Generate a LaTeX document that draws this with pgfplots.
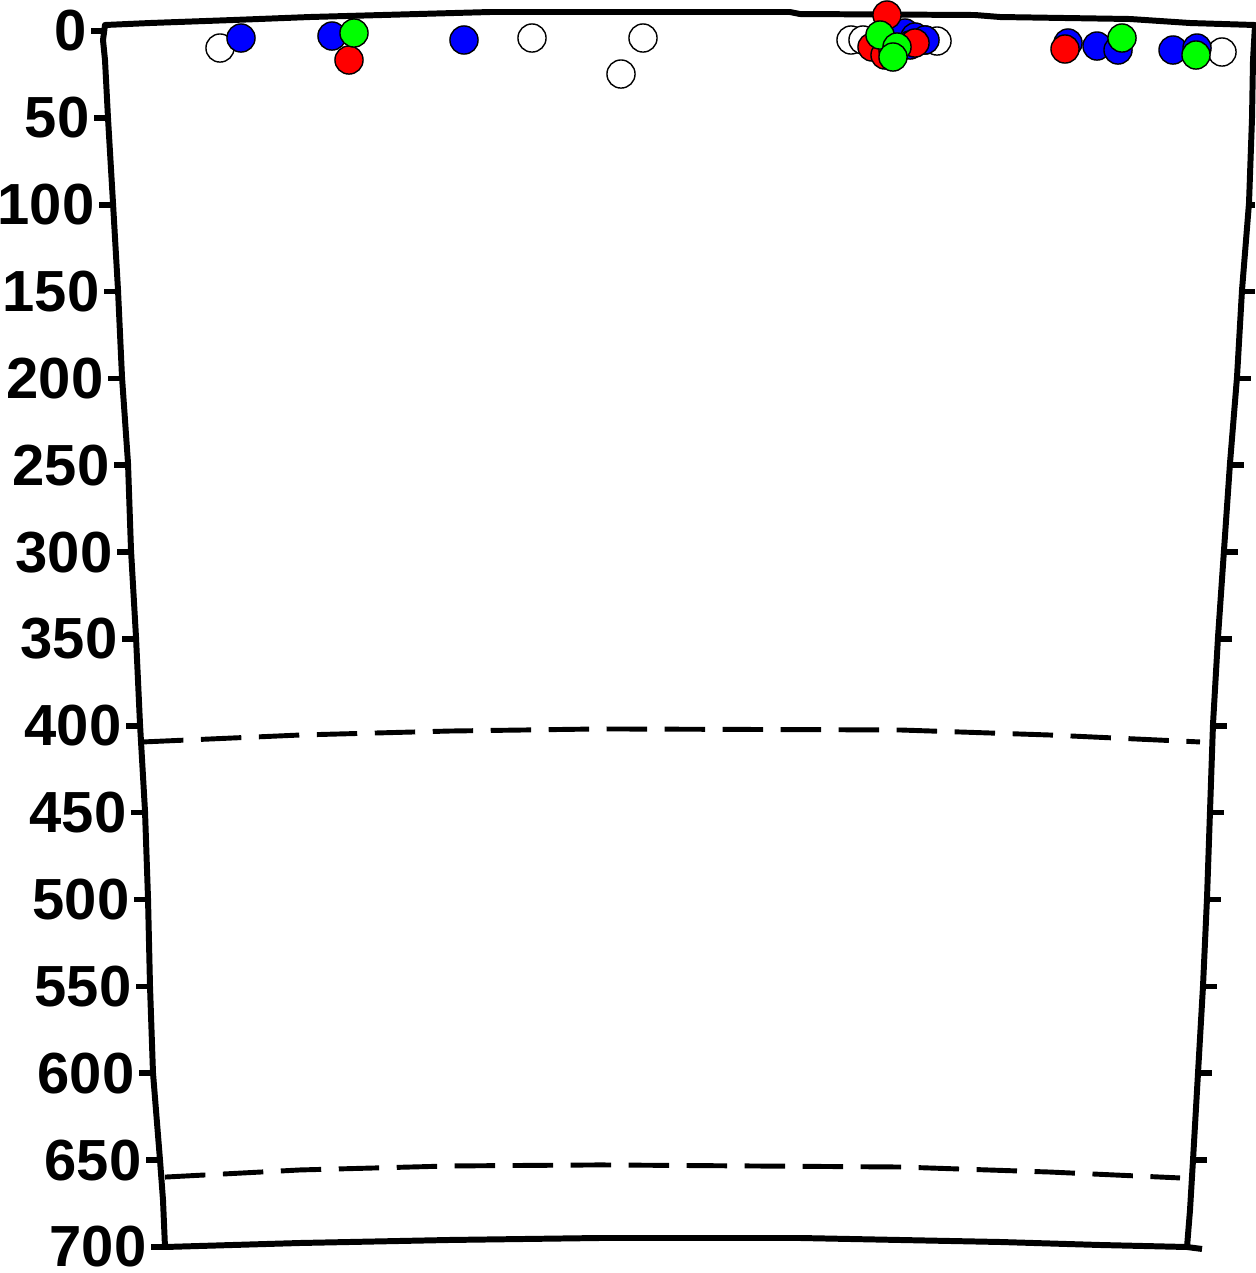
\documentclass[border=0pt]{standalone}
\usepackage{pgfplots}
\pgfplotsset{compat=1.18}
\usepackage{fontspec}
\setmainfont{Liberation Sans}
\newcommand\pp[2]{(axis cs:#1,{(#2-31)/1.737})}
\newcommand\ltick[2]{\draw[line width=1.6pt] (axis cs:{#2-14},#1) -- (axis cs:#2,#1);
  \node[anchor=east,font=\fontsize{16.5}{18}\selectfont\bfseries,inner sep=0pt] at (axis cs:{#2-18},#1) {#1};}
\newcommand\rtick[3]{\draw[line width=1.6pt] (axis cs:#2,#1) -- (axis cs:#3,#1);}
\begin{document}
\begin{tikzpicture}
\useasboundingbox (0,0) rectangle (12.55cm,12.73cm);
\begin{axis}[width=12.55cm,height=12.73cm,scale only axis,at={(0,0)},anchor=south west,
  xmin=0,xmax=1255,ymin=-17.847,ymax=715.03,y dir=reverse,
  axis lines=none,clip=false]
% frame
\draw[line width=1.7pt,line join=round]
 \pp{105}{25} -- \pp{150}{23} -- \pp{233}{20} -- \pp{310}{17} -- \pp{490}{12} -- \pp{790}{12} -- \pp{800}{14} -- \pp{975}{15} -- \pp{1000}{17} -- \pp{1130}{19} -- \pp{1190}{23} -- \pp{1255}{25}
 -- \pp{1253}{60} -- \pp{1252}{118} -- \pp{1249}{203} -- \pp{1242}{290} -- \pp{1237}{377} -- \pp{1230}{463} -- \pp{1224}{550} -- \pp{1218}{637} -- \pp{1213}{724} -- \pp{1210}{811} -- \pp{1207}{898} -- \pp{1203}{986} -- \pp{1198}{1073} -- \pp{1193}{1160} -- \pp{1190}{1210} -- \pp{1187}{1247}
 -- \pp{1100}{1245} -- \pp{1000}{1242} -- \pp{800}{1238} -- \pp{600}{1238} -- \pp{450}{1240} -- \pp{300}{1243} -- \pp{165}{1247}
 -- \pp{163}{1200} -- \pp{160}{1160} -- \pp{153}{1073} -- \pp{150}{986} -- \pp{148}{898} -- \pp{145}{811} -- \pp{140}{724} -- \pp{136}{637} -- \pp{131}{550} -- \pp{128}{463} -- \pp{122}{377} -- \pp{118}{290} -- \pp{113}{203} -- \pp{108}{118} -- \pp{105}{60} -- \pp{103}{40} -- cycle;
\draw[line width=1.7pt] \pp{1187}{1247} -- \pp{1202}{1249};
% left ticks and labels
\ltick{0}{105}\ltick{50}{108}\ltick{100}{113}\ltick{150}{118}\ltick{200}{122}
\ltick{250}{128}\ltick{300}{131}\ltick{350}{136}\ltick{400}{140}\ltick{450}{145}
\ltick{500}{148}\ltick{550}{150}\ltick{600}{153}\ltick{650}{160}\ltick{700}{165}
% right ticks
\rtick{50}{1252}{1255}\rtick{100}{1249}{1255}\rtick{150}{1242}{1255}\rtick{200}{1237}{1251}
\rtick{250}{1230}{1244}\rtick{300}{1224}{1238}\rtick{350}{1218}{1232}\rtick{400}{1213}{1227}
\rtick{450}{1210}{1224}\rtick{500}{1207}{1221}\rtick{550}{1203}{1217}\rtick{600}{1198}{1212}
\rtick{650}{1193}{1207}
% dashed lines
\addplot[black,line width=1.4pt,dash pattern=on 11.5pt off 5pt,no marks] coordinates
 {(143,409.3) (300,405.3) (450,403.0) (600,401.8) (900,402.4) (1050,405.3) (1200,409.3)};
\addplot[black,line width=1.4pt,dash pattern=on 11.5pt off 5pt,no marks] coordinates
 {(165,659.8) (300,655.7) (450,653.4) (600,652.8) (900,654.0) (1050,656.9) (1180,660.3)};
% points
\addplot[only marks,mark=*,mark size=4pt,mark options={fill=white,draw=black,line width=0.4pt}] coordinates
 {(220,9.79) (532,4.03) (643,4.03) (621,24.76) (851,5.18) (863,5.18) (925,5.18) (937,5.76) (1222,12.09)};
\addplot[only marks,mark=*,mark size=4pt,mark options={fill=blue,draw=black,line width=0.4pt}] coordinates
 {(241,4.03) (332,2.88) (464,5.18) (905,1.15) (915,3.45) (925,5.18) (910,8.06) (1068,6.91) (1097,8.64) (1118,10.94) (1173,10.94) (1197,9.79)};
\addplot[only marks,mark=*,mark size=4pt,mark options={fill=red,draw=black,line width=0.4pt}] coordinates
 {(349,16.70) (887,-9.21) (872,9.21) (915,6.91) (885,13.82) (893,10.94) (1065,10.36)};
\addplot[only marks,mark=*,mark size=4pt,mark options={fill=green,draw=black,line width=0.4pt}] coordinates
 {(354,1.15) (880,2.30) (897,9.21) (893,14.97) (1122,4.03) (1196,13.82)};
\end{axis}
\end{tikzpicture}
\end{document}
